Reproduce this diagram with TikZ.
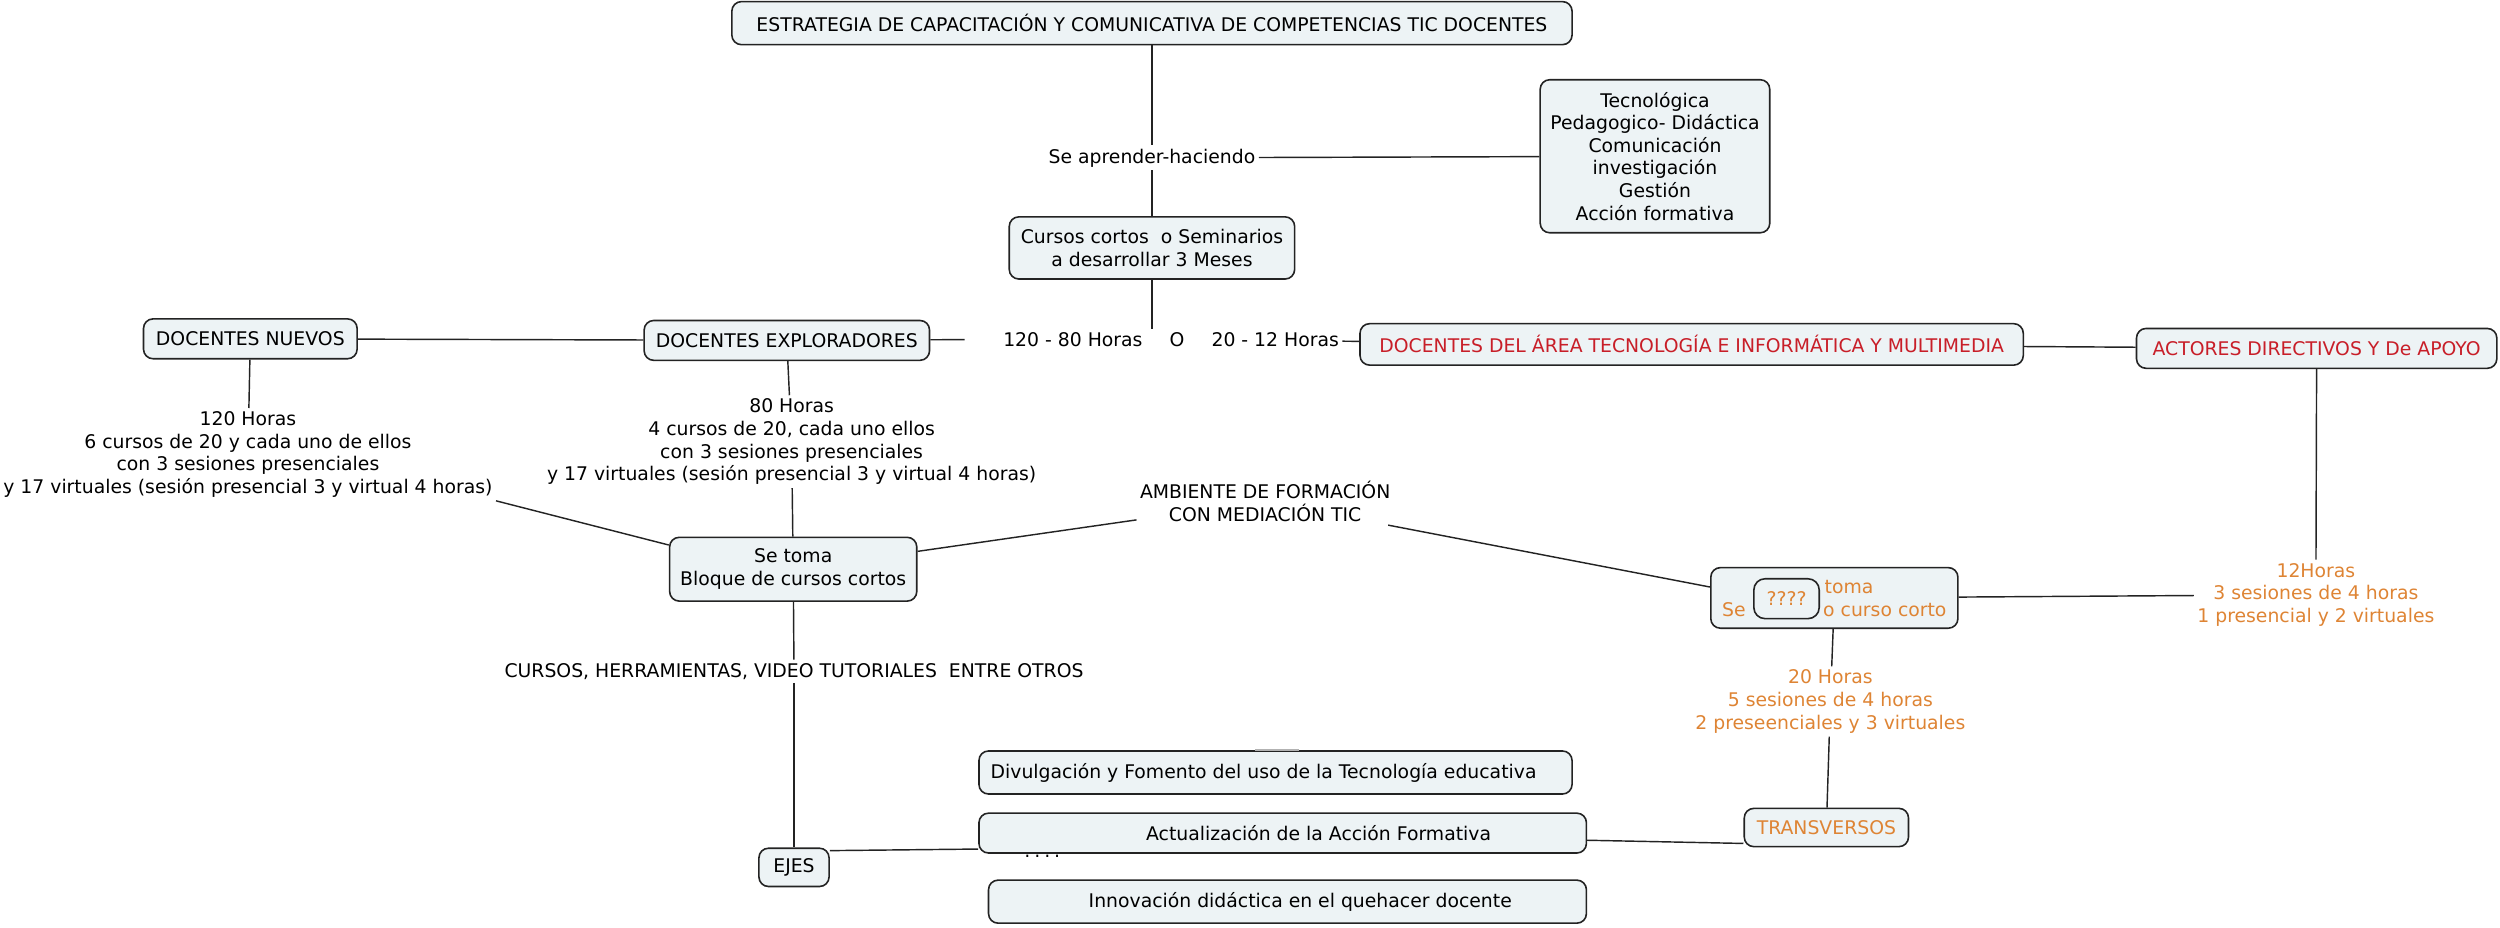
\documentclass[tikz,border=0pt]{standalone}
\usepackage{fontspec}
\setmainfont{DejaVu Sans}
\definecolor{cajafondo}{RGB}{237,243,245}
\definecolor{borde}{RGB}{35,35,35}
\definecolor{rojo}{RGB}{200,30,40}
\definecolor{naranja}{RGB}{222,132,52}

\begin{document}
\begin{tikzpicture}[
    x=1pt, y=-1pt,
    block/.style={rectangle, draw=borde, line width=1pt, fill=cajafondo, rounded corners=6pt, align=center, inner sep=3pt, font=\fontsize{11.8}{14.2}\selectfont},
    note/.style={align=center, inner sep=2pt, font=\fontsize{11.8}{14.2}\selectfont},
    link/.style={draw=borde, line width=0.9pt}
]
    \useasboundingbox (0,0) rectangle (1568,582);

    \node[block, minimum width=527pt, minimum height=27pt] (titulo) at (722.5,14.5) {ESTRATEGIA DE CAPACITACIÓN Y COMUNICATIVA DE COMPETENCIAS TIC DOCENTES};
    \node[note] (aprender) at (722.5,99) {Se aprender-haciendo};
    \node[block, minimum width=144pt, minimum height=96pt] (tecnologica) at (1038,98) {Tecnológica\\Pedagogico- Didáctica\\Comunicación\\investigación\\Gestión\\Acción formativa};
    \node[block, minimum width=179pt, minimum height=39pt] (cursos) at (722.5,155.5) {Cursos cortos \ o Seminarios\\a desarrollar 3 Meses};

    \node[note] (horas) at (734.5,213) {120 - 80 Horas\hspace{17pt}O\hspace{17pt}20 - 12 Horas};
    \node[block, minimum width=134pt, minimum height=25pt] (nuevos) at (157,212.5) {DOCENTES NUEVOS};
    \node[block, minimum width=179pt, minimum height=25pt] (exploradores) at (493.5,213.5) {DOCENTES EXPLORADORES};
    \node[block, minimum width=416pt, minimum height=26pt, text=rojo] (area) at (1061,216) {DOCENTES DEL ÁREA TECNOLOGÍA E INFORMÁTICA Y MULTIMEDIA};
    \node[block, minimum width=226pt, minimum height=25pt, text=rojo] (actores) at (1453,218.5) {ACTORES DIRECTIVOS Y De APOYO};

    \node[note] (cientoveinte) at (155.5,285) {120 Horas\\6 cursos de 20 y cada uno de ellos\\con 3 sesiones presenciales\\y 17 virtuales (sesión presencial 3 y virtual 4 horas)};
    \node[note] (ochenta) at (496.5,277) {80 Horas\\4 cursos de 20, cada uno ellos\\con 3 sesiones presenciales\\y 17 virtuales (sesión presencial 3 y virtual 4 horas)};
    \node[block, minimum width=155pt, minimum height=40pt] (bloque) at (497.5,357) {Se toma\\Bloque de cursos cortos};
    \node[note] (ambiente) at (793.5,314.5) {AMBIENTE DE FORMACIÓN\\CON MEDIACIÓN TIC};
    \node[note] (recursos) at (498,421) {CURSOS, HERRAMIENTAS, VIDEO TUTORIALES \ ENTRE OTROS};

    % nodos naranja
    \node[note, text=naranja] (doce) at (1452.5,373) {12Horas\\3 sesiones de 4 horas\\1 presencial y 2 virtuales};
    \node[block, minimum width=155pt, minimum height=38pt, text=naranja] (setoma) at (1150.5,375) {\phantom{Se }toma\\Se\phantom{minario }o curso corto};
    \node[block, minimum width=41pt, minimum height=25pt, text=naranja, rounded corners=7pt] (interrogantes) at (1120.5,375.5) {????};
    \node[note, text=naranja] (veinte) at (1148,440) {20 Horas\\5 sesiones de 4 horas\\2 preseenciales y 3 virtuales};
    \node[block, minimum width=103pt, minimum height=24pt, text=naranja] (transversos) at (1145.5,519) {TRANSVERSOS};

    % ejes
    \node[note, anchor=base] (oculto) at (654,538) {????};
    \node[block, minimum width=372pt, minimum height=27pt] (divulgacion) at (800,484.5) {Divulgación y Fomento del uso de la Tecnología educativa\hspace*{15pt}};
    \node[block, minimum width=381pt, minimum height=25pt] (actualizacion) at (804.5,522.5) {\hspace*{45pt}Actualización de la Acción Formativa};
    \node[block, minimum width=375pt, minimum height=27pt] (innovacion) at (807.5,565.5) {\hspace*{16pt}Innovación didáctica en el quehacer docente};
    \node[block, minimum width=44pt, minimum height=24pt] (ejes) at (498,544) {EJES};
    \draw[gray!60, line width=1.5pt] ([xshift=-13pt]divulgacion.north) -- ([xshift=15pt]divulgacion.north);

    \draw[link] (titulo) -- (aprender);
    \draw[link] (aprender) -- (cursos);
    \draw[link] (aprender) -- (tecnologica);
    \draw[link] (cursos.south) -- (cursos.south |- horas.north);
    \draw[link] (exploradores) -- ([xshift=-22pt]horas.west);
    \draw[link] (horas) -- (area);
    \draw[link] (nuevos) -- (exploradores);
    \draw[link] (area) -- (actores);
    \draw[link] (actores) -- (doce);
    \draw[link] (doce) -- (setoma);
    \draw[link] (setoma) -- (veinte);
    \draw[link] (veinte) -- (transversos);
    \draw[link] (setoma.175) -- (ambiente);
    \draw[link] (bloque) -- (ambiente);
    \draw[link] (nuevos) -- (cientoveinte);
    \draw[link] (cientoveinte.south east) -- (bloque.169);
    \draw[link] (exploradores) -- (ochenta);
    \draw[link] (ochenta) -- (bloque);
    \draw[link] (bloque) -- (recursos);
    \draw[link] (recursos) -- (ejes);
    \draw[link] (ejes.25) -- (actualizacion.183);
    \draw[link] ([yshift=-4.5pt]actualizacion.east) -- ([yshift=-10pt]transversos.west);
\end{tikzpicture}
\end{document}
